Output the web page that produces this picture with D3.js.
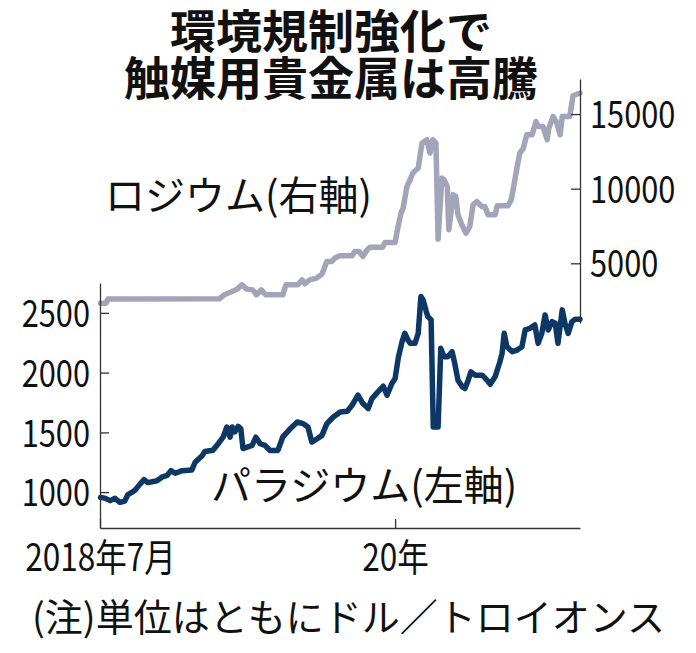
<!DOCTYPE html>
<html>
<head>
<meta charset="utf-8">
<script src="https://cdn.jsdelivr.net/npm/d3@7"></script>
<style>
  body { margin: 0; background: #fff; }
  svg { display: block; }
  .num { font-family: "Noto Sans CJK JP", sans-serif; }
</style>
</head>
<body>
<script>
// palladium (left axis), USD per troy ounce
var palladiumDates = [
  "2018-07-02","2018-07-10","2018-07-20","2018-07-29","2018-08-07","2018-08-16","2018-08-22",
  "2018-09-04","2018-09-13","2018-09-21","2018-09-28","2018-10-15","2018-10-24","2018-11-03",
  "2018-11-10","2018-11-18","2018-12-01","2018-12-19","2018-12-25","2019-01-07","2019-01-12",
  "2019-01-27","2019-02-06","2019-02-15","2019-02-22","2019-02-28","2019-03-04","2019-03-09",
  "2019-03-15","2019-03-20","2019-03-24","2019-04-01","2019-04-10","2019-04-17","2019-04-25",
  "2019-05-04","2019-05-13","2019-05-28","2019-06-06","2019-06-20","2019-07-03","2019-07-14",
  "2019-07-23","2019-07-30","2019-08-09","2019-08-18","2019-08-27","2019-09-08","2019-09-21",
  "2019-10-04","2019-10-13","2019-10-24","2019-11-02","2019-11-12","2019-11-19","2019-11-30",
  "2019-12-10","2019-12-17","2019-12-26","2020-01-01","2020-01-07","2020-01-14","2020-01-19",
  "2020-01-25","2020-01-29","2020-02-07","2020-02-13","2020-02-18","2020-02-22","2020-02-28",
  "2020-03-02","2020-03-08","2020-03-12","2020-03-21","2020-03-26","2020-04-01","2020-04-08",
  "2020-04-16","2020-04-21","2020-04-27","2020-05-05","2020-05-10","2020-05-16","2020-05-21",
  "2020-05-29","2020-06-11","2020-06-20","2020-06-26","2020-07-05","2020-07-14","2020-07-18",
  "2020-07-22","2020-07-27","2020-08-06","2020-08-15","2020-08-24","2020-08-30","2020-09-08",
  "2020-09-17","2020-09-23","2020-09-30","2020-10-06","2020-10-12","2020-10-19","2020-10-25",
  "2020-10-30","2020-11-07","2020-11-12","2020-11-18","2020-11-25","2020-12-01","2020-12-10"
];
var palladiumValues = [
  955, 950, 929, 948, 915, 925, 980,
  1015, 1065, 1105, 1080, 1095, 1125, 1140,
  1180, 1158, 1180, 1186, 1250, 1305, 1340,
  1350, 1405, 1460, 1545, 1460, 1545, 1505,
  1550, 1530, 1365, 1377, 1391, 1460, 1405,
  1391, 1349, 1349, 1461, 1531, 1587, 1573,
  1545, 1419, 1447, 1475, 1573, 1629, 1671,
  1677, 1727, 1811, 1741, 1699, 1783, 1839,
  1886, 1811, 1909, 1950, 2125, 2259, 2329,
  2273, 2245, 2245, 2329, 2637, 2609, 2511,
  2469, 2441, 1545, 1545, 2203, 2133, 2133,
  2175, 2077, 1937, 1881, 1867, 1937, 2007,
  1979, 1979, 1937, 1903, 1965, 2091, 2161,
  2329, 2217, 2175, 2189, 2217, 2357, 2371,
  2399, 2245, 2329, 2483, 2357, 2427, 2413,
  2245, 2525, 2413, 2329, 2427, 2447, 2447
];

// rhodium (right axis), USD per troy ounce
var rhodiumDates = [
  "2018-07-02","2018-07-12","2018-07-16","2019-02-08","2019-02-17","2019-03-04","2019-03-13",
  "2019-03-22","2019-03-31","2019-04-11","2019-04-18","2019-04-27","2019-05-05","2019-06-06",
  "2019-06-12","2019-07-04","2019-07-12","2019-07-17","2019-07-26","2019-08-08","2019-08-18",
  "2019-08-27","2019-09-05","2019-09-11","2019-09-20","2019-10-13","2019-10-18","2019-10-26",
  "2019-11-02","2019-11-10","2019-11-15","2019-12-09","2019-12-13","2020-01-01","2020-01-06",
  "2020-01-12","2020-01-16","2020-01-23","2020-01-29","2020-02-03","2020-02-13","2020-02-20",
  "2020-02-29","2020-03-06","2020-03-11","2020-03-17","2020-03-21","2020-03-28","2020-04-01",
  "2020-04-07","2020-04-10","2020-04-18","2020-04-23","2020-04-27","2020-05-04","2020-05-12",
  "2020-05-19","2020-05-25","2020-06-01","2020-06-10","2020-06-16","2020-06-22","2020-07-05",
  "2020-07-09","2020-07-29","2020-08-04","2020-08-07","2020-08-15","2020-08-20","2020-08-26",
  "2020-09-02","2020-09-12","2020-09-19","2020-09-23","2020-10-02","2020-10-10","2020-10-13",
  "2020-10-21","2020-10-28","2020-11-03","2020-11-07","2020-11-21","2020-11-27","2020-12-10"
];
var rhodiumValues = [
  2330, 2330, 2600, 2620, 2890, 3110, 3270,
  3560, 3270, 3220, 2890, 3220, 2890, 2890,
  3560, 3560, 3890, 3630, 3890, 4010, 4280,
  5120, 5120, 5350, 5500, 5500, 5790, 5790,
  5460, 5900, 6080, 6080, 6390, 6390, 7360,
  8360, 8700, 10150, 10600, 11050, 11380, 13050,
  13280, 12390, 13280, 13050, 6620, 10710, 10600,
  10150, 7250, 9590, 9480, 8250, 7580, 7020,
  7470, 8920, 9140, 8810, 8810, 8250, 8250,
  8850, 8850, 9260, 9810, 11450, 12390, 12660,
  13610, 13610, 14500, 14170, 14170, 13280, 14060,
  14840, 14390, 13610, 14840, 14840, 16230, 16410
];

var leftTicks = [1000, 1500, 2000, 2500];
var rightTicks = [5000, 10000, 15000];
var xTickDates = ["2018-07-01", "2020-01-01"];
var xTickLabels = ["2018年7月", "20年"];

var width = 696, height = 653;
var parse = d3.timeParse("%Y-%m-%d");

var svg = d3.select("body").append("svg")
  .attr("width", width).attr("height", height);

var x = d3.scaleTime()
  .domain([parse("2018-07-01"), parse("2020-12-10")])
  .range([100, 580]);
var yLeft = d3.scaleLinear().domain([700, 2750]).range([528, 283]);
var yRight = d3.scaleLinear().domain([1000, 17350]).range([323, 79]);

var palladium = palladiumDates.map(function(d, i){ return {date: parse(d), value: palladiumValues[i]}; });
var rhodium = rhodiumDates.map(function(d, i){ return {date: parse(d), value: rhodiumValues[i]}; });

//// title ////
var title = svg.append("text")
  .attr("x", 331).attr("text-anchor", "middle")
  .style("font-family", "'Noto Sans CJK JP', sans-serif")
  .style("font-weight", 700).style("font-size", "46px").attr("fill", "#111");
title.append("tspan").attr("x", 331).attr("y", 48).text("環境規制強化で");
title.append("tspan").attr("x", 331).attr("y", 95).text("触媒用貴金属は高騰");

//// lines ////
var lineR = d3.line().x(function(d){ return x(d.date); }).y(function(d){ return yRight(d.value); });
var lineL = d3.line().x(function(d){ return x(d.date); }).y(function(d){ return yLeft(d.value); });

svg.append("path").datum(rhodium)
  .attr("d", lineR).attr("fill", "none")
  .attr("stroke", "#a2a5b9").attr("stroke-width", 5.5)
  .attr("stroke-linejoin", "round").attr("stroke-linecap", "round");

svg.append("path").datum(palladium)
  .attr("d", lineL).attr("fill", "none")
  .attr("stroke", "#0d3866").attr("stroke-width", 5.5)
  .attr("stroke-linejoin", "round").attr("stroke-linecap", "round");

//// axes ////
// numbers in the original are set in a narrow face, squeeze them a bit
var squeeze = function(sel, k){
  sel.each(function(){
    var w = this.getComputedTextLength();
    d3.select(this).attr("textLength", w * k).attr("lengthAdjust", "spacingAndGlyphs");
  });
};

var styleAxis = function(g){
  g.select(".domain").attr("stroke", "#333").attr("stroke-width", 1.3);
  g.selectAll(".tick line").attr("stroke", "#333").attr("stroke-width", 1.3);
  g.selectAll(".tick text").attr("class", "num").attr("fill", "#111")
    .style("font-size", "38px");
};

var gLeft = svg.append("g").attr("transform", "translate(100,0)")
  .call(d3.axisLeft(yLeft).tickValues(leftTicks).tickFormat(d3.format("d"))
    .tickSizeInner(-9).tickSizeOuter(0).tickPadding(10))
  .attr("font-family", null).attr("font-size", null);
styleAxis(gLeft);
gLeft.selectAll(".tick text").attr("dy", "0.36em").call(squeeze, 0.81);

var gRight = svg.append("g").attr("transform", "translate(580,0)")
  .call(d3.axisRight(yRight).tickValues(rightTicks).tickFormat(d3.format("d"))
    .tickSizeInner(-9).tickSizeOuter(0).tickPadding(10))
  .attr("font-family", null).attr("font-size", null);
styleAxis(gRight);
gRight.selectAll(".tick text").attr("dy", "0.36em").call(squeeze, 0.81);

var gBottom = svg.append("g").attr("transform", "translate(0,528)")
  .call(d3.axisBottom(x).tickValues(xTickDates.map(parse)).tickSizeInner(-9).tickSizeOuter(0)
    .tickFormat(function(d, i){ return xTickLabels[i]; }))
  .attr("font-family", null).attr("font-size", null);
styleAxis(gBottom);
gBottom.selectAll(".tick text").attr("y", 43).attr("dy", null).call(squeeze, 0.83);

//// series labels ////
var labelFont = "'Noto Sans CJK JP', sans-serif";
svg.append("text").attr("x", 105).attr("y", 210)
  .style("font-family", labelFont).style("font-size", "40px").attr("fill", "#111")
  .text("ロジウム(右軸)");
svg.append("text").attr("x", 211).attr("y", 500)
  .style("font-family", labelFont).style("font-size", "40px").attr("fill", "#111")
  .text("パラジウム(左軸)");

//// note ////
svg.append("text").attr("x", 32).attr("y", 631)
  .style("font-family", labelFont).style("font-size", "38px").attr("fill", "#111")
  .text("(注)単位はともにドル／トロイオンス");
</script>
</body>
</html>
